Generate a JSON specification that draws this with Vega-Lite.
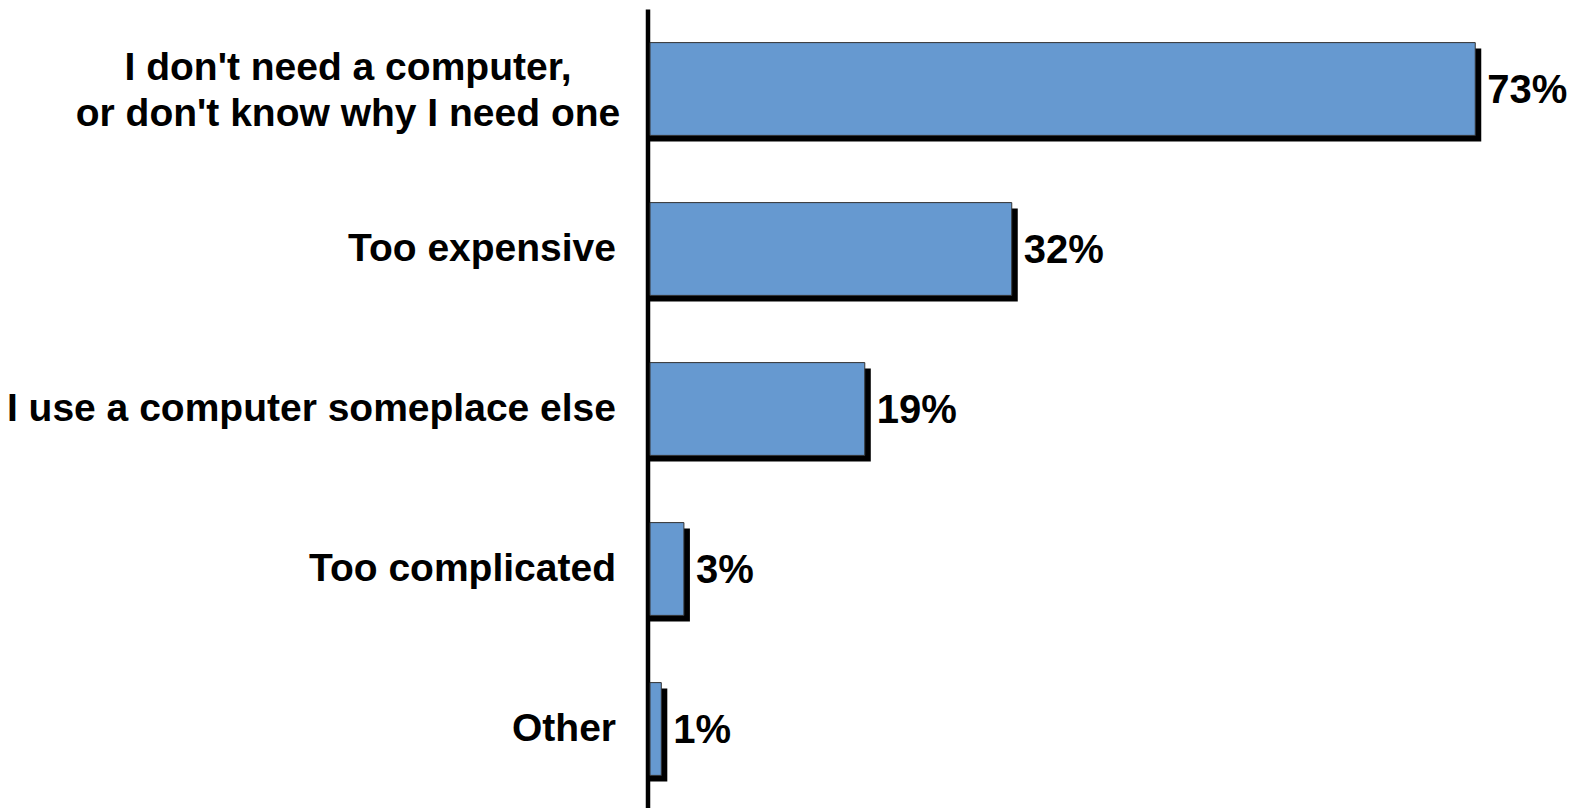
{
  "$schema": "https://vega.github.io/schema/vega-lite/v6.json",
  "width": 927,
  "height": 800,
  "autosize": {"type": "none"},
  "padding": {"left": 650, "top": 9, "right": 0, "bottom": 0},
  "background": "white",
  "config": {"view": {"stroke": null}},
  "data": {
    "values": [
      {"reason": "I don't need a computer,\nor don't know why I need one", "pct": 0.73},
      {"reason": "Too expensive", "pct": 0.32},
      {"reason": "I use a computer someplace else", "pct": 0.19},
      {"reason": "Too complicated", "pct": 0.03},
      {"reason": "Other", "pct": 0.01}
    ]
  },
  "encoding": {
    "y": {
      "field": "reason",
      "type": "nominal",
      "sort": null,
      "scale": {"paddingInner": 0.42, "paddingOuter": 0.21},
      "axis": {
        "title": null,
        "domain": true,
        "domainColor": "black",
        "domainWidth": 4.5,
        "ticks": false,
        "offset": 2.5,
        "labelPadding": {"condition": {"test": "indexof(datum.value, 'need one') >= 0", "value": 300}, "value": 32},
        "labelAlign": {"condition": {"test": "indexof(datum.value, 'need one') >= 0", "value": "center"}, "value": "right"},
        "labelOffset": {"condition": {"test": "indexof(datum.value, 'need one') >= 0", "value": -21}, "value": 0},
        "labelFont": "Liberation Sans",
        "labelFontWeight": "bold",
        "labelFontSize": 39,
        "labelColor": "black",
        "labelLineHeight": 46,
        "labelLimit": 0,
        "labelExpr": "split(datum.label, '\\n')"
      }
    },
    "x": {
      "field": "pct",
      "type": "quantitative",
      "scale": {"domain": [0, 0.82]},
      "axis": null
    }
  },
  "layer": [
    {
      "mark": {"type": "bar", "color": "black", "xOffset": 6, "x2Offset": -2, "yOffset": 6, "y2Offset": 6},
      "encoding": {"x2": {"datum": 0}}
    },
    {
      "mark": {"type": "bar", "fill": "#6699d0", "stroke": "#333333", "strokeWidth": 1}
    },
    {
      "mark": {
        "type": "text",
        "align": "left",
        "baseline": "middle",
        "dx": 12,
        "dy": 2,
        "font": "Liberation Sans",
        "fontWeight": "bold",
        "fontSize": 40,
        "color": "black"
      },
      "encoding": {"text": {"field": "pct", "format": ".0%"}}
    }
  ]
}
